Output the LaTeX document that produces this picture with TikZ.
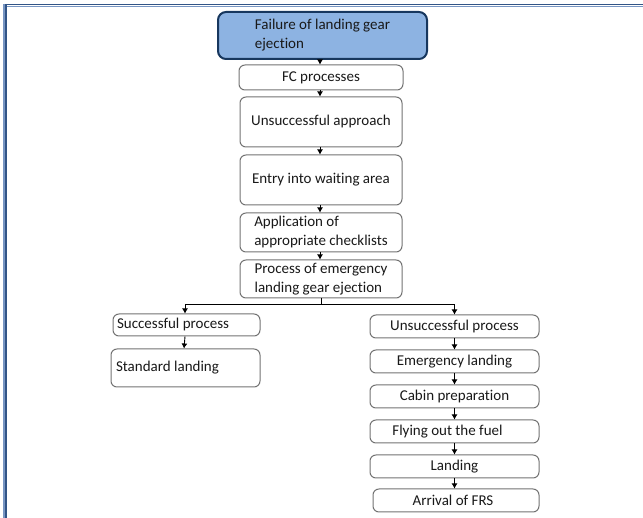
\documentclass[tikz,border=0pt]{standalone}
\usepackage{fontspec}
\setmainfont{Carlito}[Ligatures=NoCommon]
\usetikzlibrary{arrows.meta}
\definecolor{boxgray}{RGB}{115,115,115}
\definecolor{topfill}{RGB}{141,179,226}
\definecolor{topdraw}{RGB}{23,55,94}
\definecolor{framedark}{RGB}{50,85,135}
\definecolor{framelight}{RGB}{120,150,195}
\tikzset{
  stepbox/.style={draw=boxgray, line width=1pt, rounded corners=6pt, fill=white,
    inner sep=0pt, font=\fontsize{15}{19}\selectfont, align=center, text=black!90},
  topbox/.style={stepbox, draw=topdraw, fill=topfill, line width=2pt, rounded corners=8pt, align=left},
  arr/.style={draw=black, line width=0.9pt, -{Latex[length=5pt,width=6pt]}},
  plain/.style={draw=black, line width=0.9pt},
}
\begin{document}
\begin{tikzpicture}[x=1pt,y=-1pt]
\useasboundingbox (0,0) rectangle (643,518);
% frame
\draw[framelight, line width=1.4pt] (4,6.4) -- (643,6.4);
\draw[framedark, line width=1.8pt] (4,4.6) -- (643,4.6);
\draw[framelight, line width=1.4pt] (4.0,4) -- (4.0,518);
\draw[framedark, line width=1.8pt] (5.8,4) -- (5.8,518);
% main column
\node[topbox, minimum width=209pt, minimum height=47pt] (f1) at (322.5,35.5) {Failure of landing gear\\ejection};
\node[stepbox, minimum width=164pt, minimum height=25pt] (f2) at (321,77.5) {FC processes};
\node[stepbox, minimum width=162pt, minimum height=50pt] (f3) at (321,122) {Unsuccessful approach};
\node[stepbox, minimum width=162pt, minimum height=50pt] (f4) at (321,180) {\raisebox{2pt}{Entry into waiting area}};
\node[stepbox, minimum width=162pt, minimum height=39pt, align=left] (f5) at (321,232.5) {Application of\\appropriate checklists};
\node[stepbox, minimum width=162pt, minimum height=38pt, align=left] (f6) at (321,279) {Process of emergency\\landing gear ejection\hspace{14pt}};
% left branch
\node[stepbox, minimum width=147pt, minimum height=22pt] (s1) at (186.5,325) {\makebox[139pt][l]{Successful process}};
\node[stepbox, minimum width=149pt, minimum height=38pt] (s2) at (185.5,368) {\makebox[139pt][l]{Standard landing}};
% right branch
\node[stepbox, minimum width=169pt, minimum height=23pt] (u1) at (454.5,326.5) {Unsuccessful process};
\node[stepbox, minimum width=169pt, minimum height=23pt] (u2) at (454.5,361.5) {Emergency landing};
\node[stepbox, minimum width=169pt, minimum height=23pt] (u3) at (454.5,396.5) {Cabin preparation};
\node[stepbox, minimum width=169pt, minimum height=23pt] (u4) at (454.5,431.5) {Flying out the fuel\hspace{14pt}};
\node[stepbox, minimum width=169pt, minimum height=23pt] (u5) at (454.5,466.5) {Landing};
\node[stepbox, minimum width=166pt, minimum height=23pt] (u6) at (456,500.5) {Arrival of FRS\hspace{6pt}};
% connectors
\draw[arr] (f1.south -| f2) ++(-1,0) coordinate (a1) -- (a1 |- f2.north);
\draw[arr] ([xshift=-1pt]f2.south) -- ([xshift=-1pt]f3.north);
\draw[arr] ([xshift=-1pt]f3.south) -- ([xshift=-1pt]f4.north);
\draw[arr] ([xshift=-1pt]f4.south) -- ([xshift=-1pt]f5.north);
\draw[arr] ([xshift=-1pt]f5.south) -- ([xshift=-1pt]f6.north);
\coordinate (j) at ([yshift=-6pt]f6.south);
\draw[plain] (f6.south) -- (j);
\draw[arr] (j) -| ([xshift=-1.5pt]s1.north);
\draw[arr] (j) -| (u1.north);
\draw[arr] ([xshift=-1.5pt]s1.south) -- ([xshift=-1.5pt]s2.north);
\draw[arr] (u1.south) -- (u2.north);
\draw[arr] (u2.south) -- (u3.north);
\draw[arr] (u3.south) -- (u4.north);
\draw[arr] (u4.south) -- (u5.north);
\draw[arr] (u5.south) -- (u5.south |- u6.north);
\end{tikzpicture}
\end{document}
